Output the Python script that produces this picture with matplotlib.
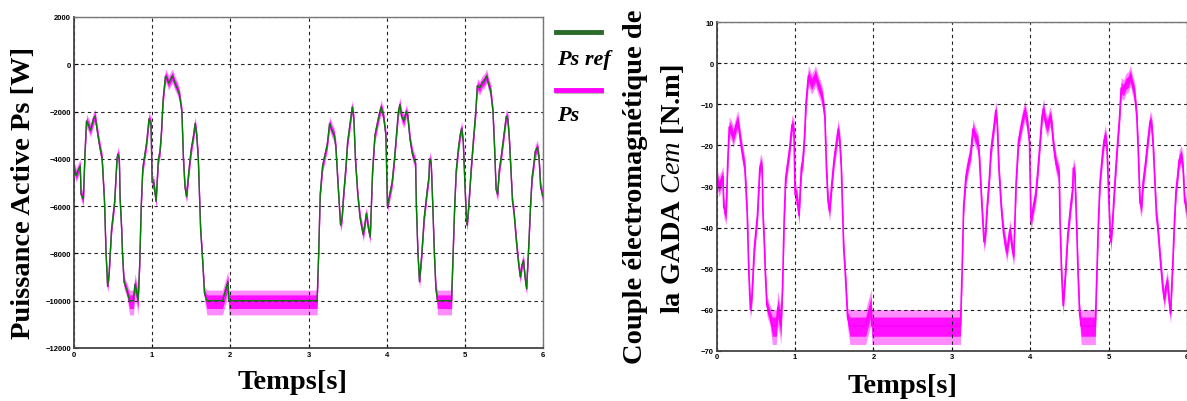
import numpy as np
import matplotlib
matplotlib.use("Agg")
import matplotlib.pyplot as plt

# time points (s)
time_s = [
    0.000, 0.030, 0.050, 0.080, 0.090, 0.120, 0.140, 0.160, 0.190, 0.210,
    0.250, 0.270, 0.320, 0.360, 0.390, 0.410, 0.430, 0.450, 0.480, 0.520,
    0.550, 0.560, 0.580, 0.590, 0.610, 0.620, 0.640, 0.680, 0.710, 0.760,
    0.780, 0.800, 0.820, 0.840, 0.860, 0.880, 0.930, 0.960, 0.985, 1.000,
    1.020, 1.050, 1.080, 1.100, 1.120, 1.140, 1.170, 1.190, 1.210, 1.240,
    1.260, 1.290, 1.320, 1.350, 1.380, 1.400, 1.420, 1.440, 1.470, 1.500,
    1.530, 1.550, 1.570, 1.590, 1.600, 1.620, 1.640, 1.670, 1.700, 1.900,
    1.970, 1.980, 3.110, 3.130, 3.150, 3.180, 3.200, 3.220, 3.240, 3.270,
    3.300, 3.330, 3.350, 3.380, 3.410, 3.430, 3.450, 3.480, 3.500, 3.540,
    3.560, 3.580, 3.600, 3.630, 3.660, 3.700, 3.720, 3.740, 3.770, 3.790,
    3.820, 3.850, 3.900, 3.930, 3.960, 3.990, 4.010, 4.040, 4.070, 4.100,
    4.120, 4.150, 4.170, 4.190, 4.220, 4.250, 4.270, 4.300, 4.330, 4.370,
    4.380, 4.400, 4.420, 4.450, 4.480, 4.520, 4.540, 4.550, 4.570, 4.590,
    4.610, 4.630, 4.650, 4.830, 4.850, 4.870, 4.890, 4.920, 4.940, 4.960,
    4.980, 5.000, 5.020, 5.030, 5.050, 5.080, 5.110, 5.140, 5.160, 5.190,
    5.220, 5.250, 5.280, 5.300, 5.330, 5.360, 5.380, 5.400, 5.420, 5.440,
    5.470, 5.500, 5.530, 5.550, 5.570, 5.590, 5.610, 5.630, 5.660, 5.690,
    5.710, 5.730, 5.750, 5.770, 5.790, 5.820, 5.840, 5.860, 5.880, 5.900,
    5.930, 5.950, 5.970, 6.000,
]

# reference stator active power (W)
ps_ref = [
    -4400, -4700, -4500, -4300, -5500, -5700, -3800, -2400, -2600, -2800,
    -2300, -2200, -3300, -4000, -5800, -8000, -9400, -8800, -7000, -5800,
    -4000, -3800, -4000, -5700, -7000, -8000, -9200, -9600, -10000, -10000,
    -9300, -9600, -10000, -8500, -6000, -4400, -3300, -2300, -2500, -5000,
    -5000, -5800, -4000, -3700, -2800, -1500, -500, -600, -800, -600,
    -500, -800, -1000, -1300, -2000, -4000, -5200, -5600, -4500, -3600,
    -3000, -2500, -3000, -4000, -5000, -7000, -8000, -9700, -10000, -10000,
    -9200, -10000, -10000, -8000, -5500, -4300, -4000, -3700, -3400, -2500,
    -2800, -3000, -3500, -5200, -6800, -6500, -5500, -4300, -3300, -2300,
    -1800, -2300, -4000, -5500, -6500, -7200, -6800, -6300, -7000, -7300,
    -4500, -3000, -2200, -1800, -2200, -3000, -6000, -5500, -5000, -4000,
    -3200, -2000, -1700, -2200, -2400, -2000, -2200, -3200, -3800, -4200,
    -6000, -8000, -9200, -8000, -6500, -5300, -4800, -4000, -4200, -6000,
    -8000, -9500, -10000, -10000, -8000, -6000, -4500, -3500, -3000, -2700,
    -3300, -5000, -6500, -6800, -6000, -4500, -3200, -2000, -900, -1000,
    -800, -700, -500, -800, -1100, -2000, -3500, -5300, -5500, -4500,
    -3800, -3000, -2200, -2300, -3200, -4500, -5800, -6300, -7500, -8500,
    -9000, -8500, -8300, -9000, -9500, -7500, -6000, -4800, -4300, -3700,
    -3500, -4000, -5200, -5600,
]

# electromagnetic torque of the DFIG (N.m)
cem = [
    -28, -30, -29, -27.5, -35, -37, -24.5, -15.5, -16.5, -18,
    -15, -14, -21, -25.5, -37, -51, -60, -56.5, -45, -37,
    -25.5, -24.5, -25.5, -36.5, -45, -51, -59, -61.5, -64, -64,
    -59.5, -61.5, -64, -54.5, -38.5, -28, -21, -15, -16, -32,
    -32, -37, -25.5, -23.5, -18, -9.5, -3, -4, -5, -4,
    -3, -5, -6.5, -8.5, -13, -25.5, -33.5, -36, -29, -23,
    -19, -16, -19, -25.5, -32, -45, -51, -62, -64, -64,
    -59, -64, -64, -51, -35, -27.5, -25.5, -23.5, -22, -16,
    -18, -19, -22.5, -33.5, -43.5, -41.5, -35, -27.5, -21, -15,
    -11.5, -15, -25.5, -35, -41.5, -46, -43.5, -40.5, -45, -47,
    -29, -19, -14, -11.5, -14, -19, -38.5, -35, -32, -25.5,
    -20.5, -13, -11, -14, -15.5, -13, -14, -20.5, -24.5, -27,
    -38.5, -51, -59, -51, -41.5, -34, -31, -25.5, -27, -38.5,
    -51, -61, -64, -64, -51, -38.5, -29, -22.5, -19, -17.5,
    -21, -32, -41.5, -43.5, -38.5, -29, -20.5, -13, -6, -6.5,
    -5, -4.5, -3, -5, -7, -13, -22.5, -34, -35, -29,
    -24.5, -19, -14, -15, -20.5, -29, -37, -40.5, -48, -54.5,
    -57.5, -54.5, -53, -57.5, -61, -48, -38.5, -31, -27.5, -23.5,
    -22.5, -25.5, -33.5, -36,
]

start_value = 0  # both measured signals start from 0 at t=0

# spans where the signals sit at steady state with a wider ripple
steady_spans = [(0.69, 0.83), (1.68, 3.12), (4.64, 4.84)]
ps_ripple = 300                 # W, normal ripple half width
ps_ripple_steady = (600, 450)   # W, below / above the reference
cem_ripple = 2.5
cem_ripple_steady = (4.5, 4.0)

ps_yticks = [2000, 0, -2000, -4000, -6000, -8000, -10000, -12000]
cem_yticks = [10, 0, -10, -20, -30, -40, -50, -60, -70]
xticks = [0, 1, 2, 3, 4, 5, 6]

GREEN = "#008000"
MAGENTA = "#ff00ff"
SERIF = "Liberation Serif"

plt.rcParams["mathtext.fontset"] = "custom"
plt.rcParams["mathtext.rm"] = "Liberation Serif:bold"
plt.rcParams["mathtext.it"] = "Liberation Serif:italic"


def ripple_band(t, ref, normal, steady, scale=1.0):
    t = np.asarray(t)
    ref = np.asarray(ref, dtype=float)
    lo = np.full_like(ref, normal)
    hi = np.full_like(ref, normal)
    for a, b in steady_spans:
        m = (t >= a) & (t <= b)
        lo[m] = steady[0]
        hi[m] = steady[1]
    return ref - lo * scale, ref + hi * scale


def draw_ripple(ax, t, ref, normal, steady):
    # outer (sparse spikes) and inner (dense core) ripple
    lo, hi = ripple_band(t, ref, normal, steady)
    ax.fill_between(t, lo, hi, color=MAGENTA, linewidth=0, alpha=0.45)
    lo, hi = ripple_band(t, ref, normal, steady, scale=0.55)
    ax.fill_between(t, lo, hi, color=MAGENTA, linewidth=0, alpha=0.9)


def style_axes(ax, yticks, ylim):
    ax.set_xlim(0, 6)
    ax.set_ylim(*ylim)
    ax.set_xticks(xticks)
    ax.set_yticks(yticks)
    ax.grid(True, color="#222222", linestyle=(0, (3, 3)), linewidth=0.8)
    ax.tick_params(direction="in", length=3, width=0.8, pad=2, labelsize=5.5)
    for lab in ax.get_xticklabels() + ax.get_yticklabels():
        lab.set_family("Liberation Sans")
        lab.set_fontweight("bold")
    for side in ["left", "bottom"]:
        ax.spines[side].set_color("#444444")
        ax.spines[side].set_linewidth(1.3)
    for side in ["top", "right"]:
        ax.spines[side].set_color("#777777")
        ax.spines[side].set_linewidth(1.0)


fig = plt.figure(figsize=(11.87, 4.02), dpi=100)

# --- left: stator active power ---
ax1 = fig.add_axes([74 / 1187, 1 - 349 / 402, 469 / 1187, 331 / 402])
t_meas = [0.0] + time_s
ps_meas = [start_value] + ps_ref
draw_ripple(ax1, time_s, ps_ref, ps_ripple, ps_ripple_steady)
ax1.plot(t_meas, ps_meas, color=MAGENTA, linewidth=1.0)
ax1.plot(time_s, ps_ref, color=GREEN, linewidth=0.9)
style_axes(ax1, ps_yticks, (-12000, 2000))

# --- right: electromagnetic torque ---
ax2 = fig.add_axes([716.7 / 1187, 1 - 351.7 / 402, 470.3 / 1187, 328.4 / 402])
cem_meas = [start_value] + cem
draw_ripple(ax2, time_s, cem, cem_ripple, cem_ripple_steady)
ax2.plot(t_meas, cem_meas, color=MAGENTA, linewidth=1.2)
style_axes(ax2, cem_yticks, (-70, 10))

# axis titles
fig.text(293 / 1187, 1 - 383 / 402, "Temps[s]", family=SERIF, fontweight="bold",
         fontsize=20.5, ha="center", va="center")
fig.text(903 / 1187, 1 - 387 / 402, "Temps[s]", family=SERIF, fontweight="bold",
         fontsize=20.5, ha="center", va="center")
fig.text(24 / 1187, 1 - 193 / 402, "Puissance Active Ps [W]", family=SERIF,
         fontweight="bold", fontsize=20.5, rotation=90, ha="center", va="center")
fig.text(636 / 1187, 1 - 187 / 402, "Couple électromagnétique de", family=SERIF,
         fontweight="bold", fontsize=20.5, rotation=90, ha="center", va="center")
fig.text(672 / 1187, 1 - 189 / 402, r"la GADA $\mathit{Cem}$ [N.m]", family=SERIF,
         fontweight="bold", fontsize=20.5, rotation=90, ha="center", va="center")

# legend drawn by hand between the two panels
fig.add_artist(plt.Line2D([556 / 1187, 601 / 1187], [1 - 33 / 402] * 2,
                          color="#2a6a2a", linewidth=3.5))
fig.add_artist(plt.Line2D([557 / 1187, 602 / 1187], [1 - 93 / 402] * 2,
                          color="#bbbbbb", linewidth=3.0))
fig.add_artist(plt.Line2D([556 / 1187, 601 / 1187], [1 - 91 / 402] * 2,
                          color=MAGENTA, linewidth=3.5))
fig.text(557 / 1187, 1 - 60 / 402, "Ps ref", family=SERIF, fontweight="bold",
         style="italic", fontsize=16, ha="left", va="center")
fig.text(557 / 1187, 1 - 116 / 402, "Ps", family=SERIF, fontweight="bold",
         style="italic", fontsize=16, ha="left", va="center")

fig.savefig("out.png", dpi=100)
